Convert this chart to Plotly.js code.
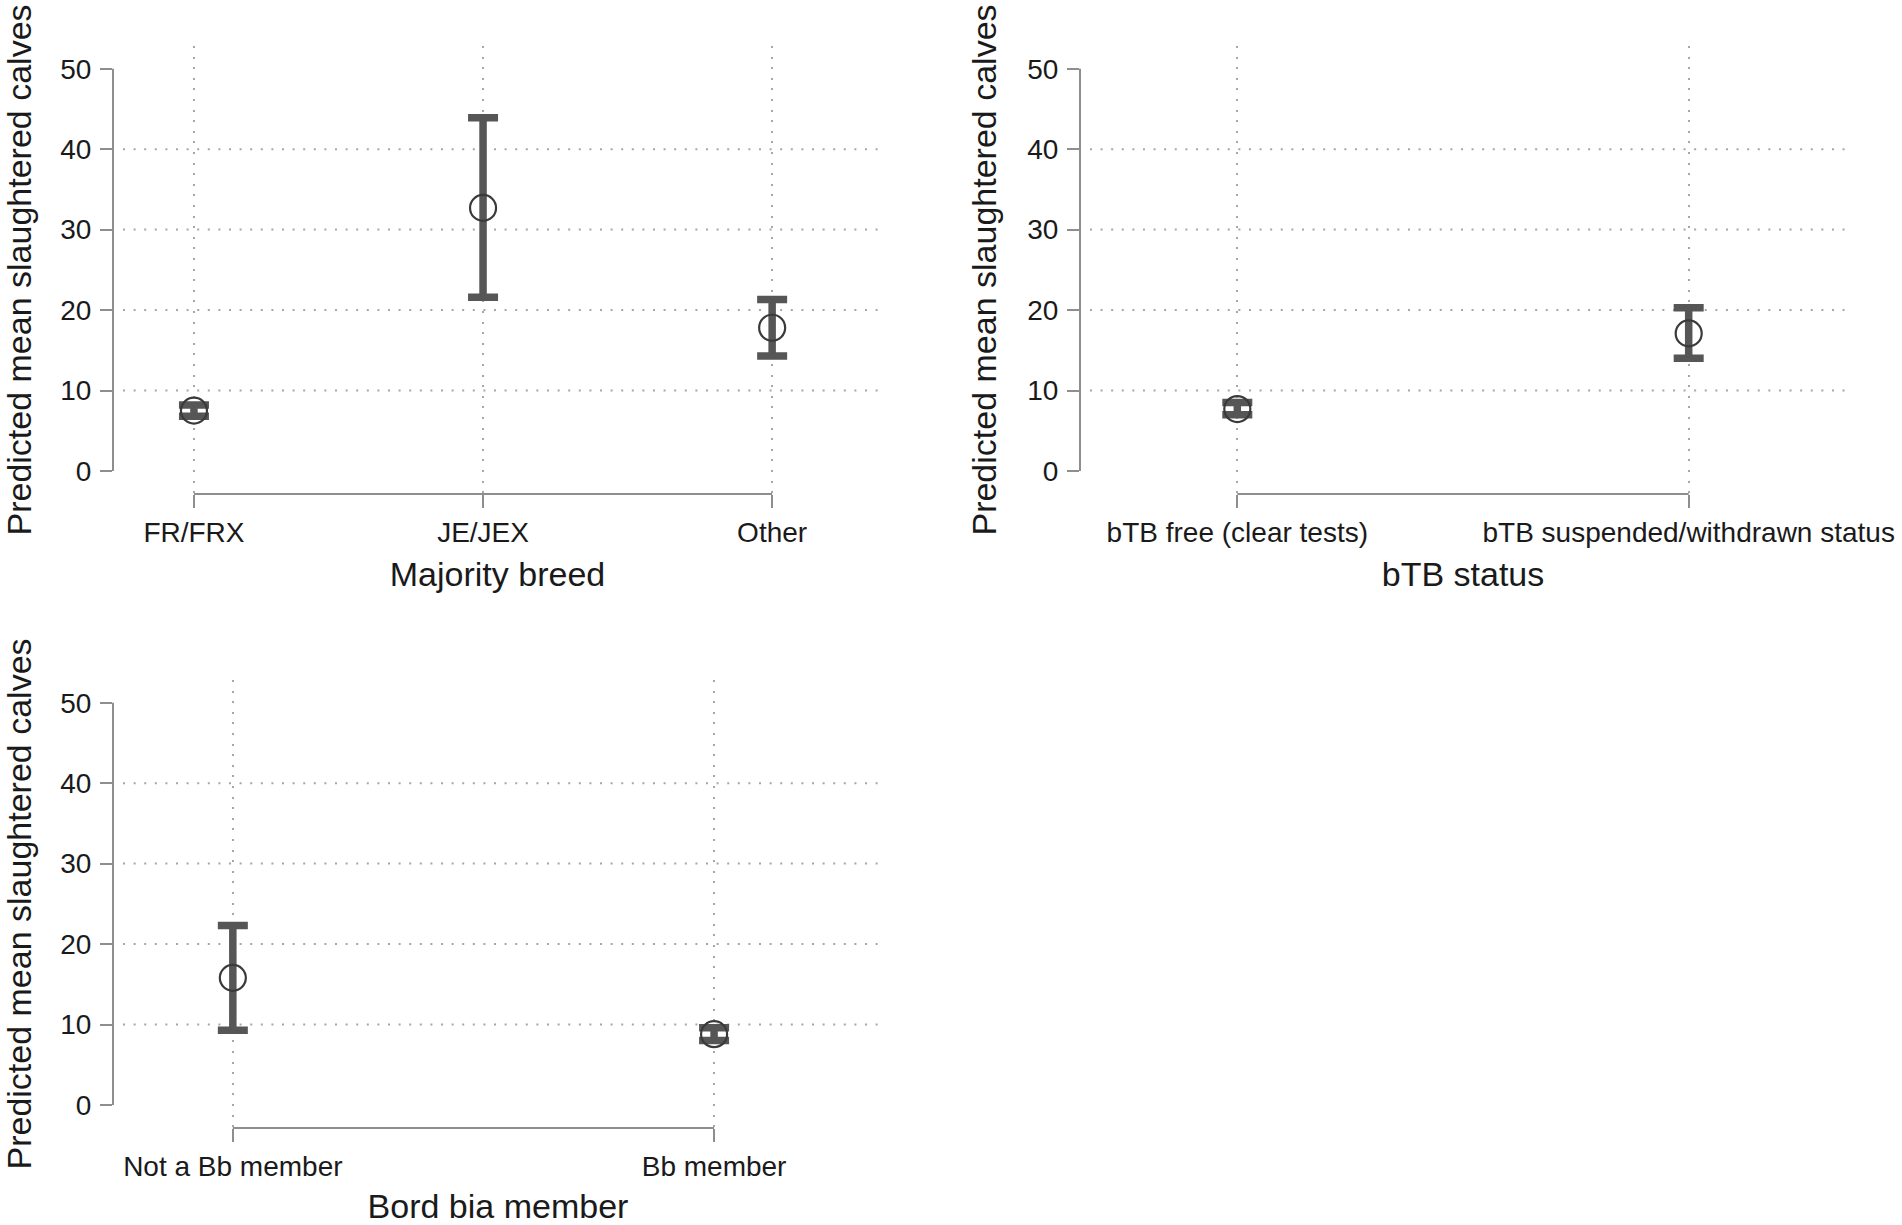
<!DOCTYPE html>
<html>
<head>
<meta charset="utf-8">
<script src="https://cdn.plot.ly/plotly-3.0.1.min.js"></script>
<style>html,body{margin:0;padding:0;background:#fff;}#chart{width:1902px;height:1225px;}</style>
</head>
<body>
<div id="chart"></div>
<script>
// ---- data ----
const breedCats = ['FR/FRX', 'JE/JEX', 'Other'];
const breedMean = [7.5, 32.7, 17.8];
const breedLow  = [6.8, 21.6, 14.3];
const breedHigh = [8.2, 43.9, 21.3];

const btbCats = ['bTB free (clear tests)', 'bTB suspended/withdrawn status'];
const btbMean = [7.7, 17.1];
const btbLow  = [7.0, 14.0];
const btbHigh = [8.5, 20.3];

const bbCats = ['Not a Bb member', 'Bb member'];
const bbMean = [15.8, 8.8];
const bbLow  = [9.3, 8.0];
const bbHigh = [22.3, 9.6];

const yTickVals = [0, 10, 20, 30, 40, 50];
const yGridVals = [10, 20, 30, 40];
const yTitle = 'Predicted mean slaughtered calves';
const xTitles = ['Majority breed', 'bTB status', 'Bord bia member'];

// ---- style ----
const W = 1902, H = 1225;
const FONT = 'Liberation Sans, Arial, sans-serif';
const AXIS_COLOR = '#8e8e8e';
const GRID_COLOR = '#a6a6a6';
const GRID_DASH = '2px,8.6px';
const BAR_COLOR = '#565656';
const MARKER_COLOR = '#3a3a3a';
const TEXT_COLOR = '#1a1a1a';

const panels = [
  {cats: breedCats, mean: breedMean, lo: breedLow, hi: breedHigh, title: xTitles[0],
   px: [113, 882], py: [46, 494], xr: [0.72, 3.38]},
  {cats: btbCats, mean: btbMean, lo: btbLow, hi: btbHigh, title: xTitles[1],
   px: [1080, 1846], py: [46, 494], xr: [0.6515, 2.3485]},
  {cats: bbCats, mean: bbMean, lo: bbLow, hi: bbHigh, title: xTitles[2],
   px: [113, 883], py: [680, 1128], xr: [0.751, 2.351]}
];
const yRange = [-2.86, 52.82];

const traces = [];
const layout = {
  width: W, height: H,
  margin: {l: 0, r: 0, t: 0, b: 0},
  paper_bgcolor: '#ffffff', plot_bgcolor: '#ffffff',
  showlegend: false,
  font: {family: FONT, color: TEXT_COLOR},
  shapes: []
};

panels.forEach((p, i) => {
  const n = i + 1;
  const xa = n === 1 ? 'xaxis' : 'xaxis' + n;
  const ya = n === 1 ? 'yaxis' : 'yaxis' + n;
  const xid = n === 1 ? 'x' : 'x' + n;
  const yid = n === 1 ? 'y' : 'y' + n;
  const xs = p.cats.map((c, k) => k + 1);

  traces.push({
    type: 'scatter', mode: 'markers', x: xs, y: p.mean, xaxis: xid, yaxis: yid,
    error_y: {type: 'data', symmetric: false,
              array: p.hi.map((h, k) => h - p.mean[k]),
              arrayminus: p.mean.map((m, k) => m - p.lo[k]),
              color: BAR_COLOR, thickness: 7.5, width: 15},
    marker: {symbol: 'circle-open', size: 26, color: MARKER_COLOR, line: {width: 2.2}},
    hoverinfo: 'skip'
  });

  layout[xa] = {
    domain: [p.px[0] / W, p.px[1] / W], range: p.xr, anchor: yid,
    tickmode: 'array', tickvals: xs, ticktext: p.cats,
    ticks: 'outside', ticklen: 13, tickwidth: 2, tickcolor: AXIS_COLOR,
    tickfont: {size: 28, family: FONT, color: TEXT_COLOR},
    showgrid: true, gridcolor: GRID_COLOR, griddash: GRID_DASH, gridwidth: 2,
    zeroline: false, showline: false, fixedrange: true,
    title: {text: p.title, font: {size: 34, family: FONT, color: TEXT_COLOR}, standoff: 15},
    automargin: false
  };
  layout[ya] = {
    domain: [1 - p.py[1] / H, 1 - p.py[0] / H], range: yRange, anchor: xid,
    tickmode: 'array', tickvals: yTickVals,
    ticks: 'outside', ticklen: 12, tickwidth: 2, tickcolor: AXIS_COLOR,
    ticklabelstandoff: 3,
    tickfont: {size: 28, family: FONT, color: TEXT_COLOR},
    showgrid: false, zeroline: false, showline: false, fixedrange: true,
    title: {text: yTitle, font: {size: 34, family: FONT, color: TEXT_COLOR}, standoff: 20},
    automargin: false
  };

  // y axis line spanning the labelled range only
  layout.shapes.push({type: 'line', xref: xid + ' domain', yref: yid,
    x0: 0, x1: 0, y0: yTickVals[0], y1: yTickVals[yTickVals.length - 1],
    line: {color: AXIS_COLOR, width: 2}});
  // x axis line spanning the categories only
  layout.shapes.push({type: 'line', xref: xid, yref: yid + ' domain',
    x0: xs[0], x1: xs[xs.length - 1], y0: 0, y1: 0,
    line: {color: AXIS_COLOR, width: 2}});
  // dotted horizontal grid lines (not at 0 or 50)
  yGridVals.forEach(v => {
    layout.shapes.push({type: 'line', xref: xid + ' domain', yref: yid, layer: 'below',
      x0: 0.013, x1: 1, y0: v, y1: v,
      line: {color: GRID_COLOR, width: 2, dash: GRID_DASH}});
  });
});

Plotly.newPlot('chart', traces, layout, {displayModeBar: false, staticPlot: true});
</script>
</body>
</html>
